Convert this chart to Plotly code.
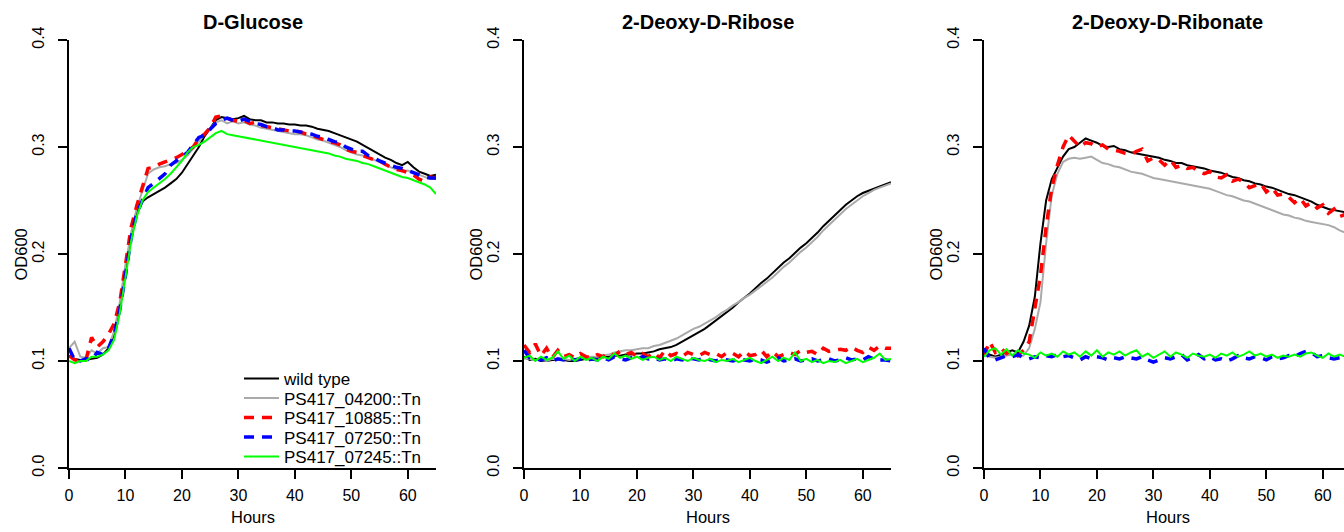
import plotly.graph_objects as go

# ---------------- data ----------------
hours = list(range(66))
strains = ["wild type", "PS417_04200::Tn", "PS417_10885::Tn", "PS417_07250::Tn", "PS417_07245::Tn"]
panel_titles = ["D-Glucose", "2-Deoxy-D-Ribose", "2-Deoxy-D-Ribonate"]
x_tick_vals = [0, 10, 20, 30, 40, 50, 60]
y_tick_vals = [0.0, 0.1, 0.2, 0.3, 0.4]
y_tick_text = ["0.0", "0.1", "0.2", "0.3", "0.4"]

# D-Glucose
glc_wt = [0.105,0.102,0.101,0.101,0.102,0.103,0.106,0.112,0.125,0.150,0.183,0.215,0.240,0.249,0.253,0.256,0.259,0.262,0.266,0.270,
          0.276,0.284,0.292,0.300,0.310,0.318,0.325,0.328,0.327,0.326,0.327,0.329,0.326,0.325,0.325,0.323,0.323,0.322,0.322,0.321,
          0.321,0.320,0.320,0.319,0.317,0.316,0.315,0.313,0.311,0.309,0.307,0.305,0.302,0.299,0.296,0.293,0.290,0.288,0.285,0.283,
          0.286,0.281,0.277,0.275,0.273,0.274]
glc_04200 = [0.112,0.118,0.104,0.103,0.110,0.107,0.112,0.113,0.128,0.155,0.190,0.220,0.243,0.260,0.275,0.279,0.281,0.282,0.284,0.285,
             0.288,0.292,0.298,0.305,0.312,0.318,0.323,0.325,0.322,0.324,0.322,0.323,0.321,0.320,0.318,0.317,0.316,0.315,0.314,0.313,
             0.312,0.312,0.311,0.309,0.307,0.306,0.304,0.302,0.300,0.297,0.295,0.293,0.292,0.290,0.288,0.286,0.283,0.281,0.279,0.277,
             0.278,0.276,0.274,0.272,0.270,0.270]
glc_10885 = [0.105,0.101,0.100,0.101,0.122,0.113,0.118,0.125,0.135,0.155,0.190,0.225,0.245,0.262,0.280,0.281,0.284,0.286,0.288,0.290,
             0.293,0.296,0.300,0.308,0.312,0.318,0.328,0.329,0.327,0.325,0.324,0.325,0.322,0.323,0.320,0.319,0.318,0.317,0.316,0.315,
             0.315,0.314,0.312,0.311,0.309,0.307,0.305,0.304,0.302,0.298,0.296,0.295,0.292,0.290,0.288,0.287,0.284,0.281,0.279,0.278,
             0.276,0.274,0.270,0.268,0.272,0.271]
glc_07250 = [0.112,0.101,0.100,0.102,0.101,0.108,0.106,0.112,0.125,0.148,0.180,0.215,0.238,0.250,0.262,0.266,0.270,0.275,0.283,0.287,
             0.290,0.295,0.302,0.309,0.311,0.316,0.322,0.325,0.327,0.325,0.324,0.326,0.324,0.322,0.321,0.319,0.318,0.316,0.316,0.315,
             0.315,0.314,0.313,0.312,0.310,0.309,0.307,0.305,0.304,0.300,0.298,0.296,0.296,0.292,0.290,0.287,0.285,0.283,0.281,0.280,
             0.278,0.276,0.274,0.272,0.271,0.271]
glc_07245 = [0.100,0.098,0.100,0.100,0.104,0.104,0.106,0.110,0.120,0.145,0.178,0.212,0.235,0.250,0.258,0.262,0.266,0.270,0.275,0.281,
             0.287,0.295,0.300,0.302,0.305,0.309,0.313,0.315,0.312,0.311,0.310,0.309,0.308,0.307,0.306,0.305,0.304,0.303,0.302,0.301,
             0.300,0.299,0.298,0.297,0.296,0.295,0.294,0.292,0.291,0.289,0.288,0.287,0.285,0.284,0.282,0.280,0.278,0.276,0.274,0.272,
             0.271,0.269,0.267,0.265,0.262,0.256]

# 2-Deoxy-D-Ribose
dr_wt = [0.104,0.101,0.102,0.100,0.100,0.101,0.101,0.101,0.100,0.100,0.101,0.102,0.101,0.103,0.104,0.104,0.105,0.105,0.106,0.106,
         0.107,0.107,0.108,0.109,0.111,0.112,0.113,0.115,0.118,0.121,0.124,0.127,0.130,0.134,0.138,0.142,0.146,0.150,0.155,0.159,
         0.163,0.168,0.173,0.177,0.182,0.187,0.192,0.196,0.201,0.206,0.210,0.215,0.220,0.226,0.231,0.236,0.241,0.246,0.250,0.254,
         0.257,0.259,0.261,0.263,0.265,0.267]
dr_04200 = [0.102,0.102,0.101,0.101,0.100,0.102,0.101,0.102,0.101,0.102,0.103,0.103,0.104,0.104,0.105,0.106,0.108,0.109,0.110,0.110,
            0.111,0.112,0.112,0.114,0.115,0.117,0.119,0.121,0.124,0.127,0.130,0.132,0.135,0.138,0.141,0.145,0.148,0.152,0.155,0.159,
            0.162,0.166,0.170,0.174,0.178,0.183,0.188,0.192,0.197,0.202,0.206,0.211,0.216,0.222,0.227,0.232,0.237,0.242,0.246,0.250,
            0.254,0.257,0.260,0.262,0.264,0.266]
dr_10885 = [0.115,0.108,0.116,0.105,0.112,0.103,0.110,0.104,0.106,0.103,0.107,0.104,0.103,0.106,0.104,0.108,0.105,0.109,0.106,0.108,
            0.104,0.107,0.104,0.108,0.103,0.110,0.105,0.107,0.104,0.108,0.106,0.105,0.108,0.106,0.107,0.104,0.108,0.107,0.104,0.109,
            0.105,0.106,0.110,0.104,0.109,0.104,0.106,0.108,0.106,0.110,0.108,0.109,0.106,0.112,0.109,0.110,0.111,0.110,0.113,0.110,
            0.108,0.113,0.110,0.114,0.112,0.112]
dr_07250 = [0.110,0.103,0.102,0.101,0.103,0.100,0.102,0.101,0.103,0.101,0.102,0.100,0.102,0.101,0.103,0.101,0.104,0.102,0.101,0.103,
            0.102,0.104,0.102,0.103,0.101,0.102,0.100,0.102,0.101,0.103,0.102,0.101,0.103,0.101,0.100,0.102,0.101,0.100,0.102,0.101,
            0.100,0.102,0.101,0.099,0.101,0.103,0.100,0.101,0.102,0.100,0.101,0.102,0.100,0.101,0.102,0.100,0.101,0.103,0.101,0.102,
            0.101,0.104,0.102,0.101,0.101,0.100]
dr_07245 = [0.103,0.105,0.100,0.104,0.101,0.103,0.109,0.102,0.105,0.100,0.104,0.101,0.103,0.100,0.104,0.102,0.107,0.103,0.105,0.102,
            0.104,0.101,0.103,0.104,0.101,0.103,0.100,0.104,0.102,0.100,0.103,0.101,0.100,0.102,0.099,0.101,0.100,0.102,0.099,0.101,
            0.103,0.100,0.098,0.101,0.104,0.100,0.103,0.101,0.108,0.100,0.102,0.099,0.101,0.098,0.100,0.099,0.101,0.098,0.100,0.102,
            0.099,0.101,0.103,0.107,0.101,0.102]

# 2-Deoxy-D-Ribonate
drn_wt = [0.108,0.106,0.104,0.106,0.108,0.110,0.108,0.118,0.133,0.160,0.210,0.250,0.270,0.281,0.291,0.298,0.300,0.304,0.308,0.306,
          0.304,0.301,0.300,0.301,0.298,0.297,0.295,0.294,0.293,0.292,0.291,0.290,0.288,0.287,0.285,0.285,0.283,0.282,0.281,0.280,
          0.278,0.277,0.276,0.274,0.272,0.271,0.269,0.268,0.266,0.265,0.263,0.262,0.260,0.258,0.256,0.255,0.253,0.251,0.249,0.246,
          0.244,0.242,0.241,0.240,0.239,0.238]
drn_04200 = [0.106,0.104,0.103,0.104,0.105,0.106,0.104,0.105,0.112,0.130,0.155,0.210,0.255,0.275,0.286,0.289,0.290,0.289,0.290,0.291,
             0.288,0.285,0.284,0.282,0.281,0.279,0.277,0.276,0.275,0.273,0.271,0.270,0.269,0.268,0.267,0.266,0.265,0.264,0.263,0.262,
             0.261,0.259,0.257,0.255,0.254,0.252,0.250,0.249,0.247,0.245,0.243,0.241,0.239,0.237,0.236,0.234,0.233,0.231,0.230,0.229,
             0.228,0.227,0.225,0.222,0.220,0.219]
drn_10885 = [0.105,0.118,0.108,0.112,0.107,0.110,0.105,0.110,0.118,0.150,0.180,0.225,0.262,0.283,0.300,0.311,0.305,0.300,0.304,0.303,
             0.300,0.302,0.298,0.297,0.296,0.294,0.293,0.296,0.298,0.287,0.290,0.288,0.283,0.288,0.281,0.283,0.280,0.281,0.277,0.275,
             0.277,0.272,0.271,0.274,0.268,0.270,0.267,0.262,0.264,0.266,0.258,0.262,0.255,0.256,0.253,0.248,0.252,0.245,0.248,0.243,
             0.246,0.238,0.242,0.235,0.237,0.234]
drn_07250 = [0.112,0.102,0.101,0.103,0.105,0.104,0.106,0.103,0.102,0.104,0.103,0.105,0.104,0.106,0.104,0.105,0.103,0.101,0.104,0.102,
             0.104,0.103,0.101,0.103,0.102,0.104,0.103,0.102,0.104,0.101,0.099,0.101,0.103,0.102,0.104,0.106,0.101,0.103,0.106,0.102,
             0.104,0.101,0.102,0.100,0.102,0.105,0.103,0.102,0.104,0.103,0.101,0.104,0.102,0.103,0.105,0.104,0.107,0.109,0.108,0.104,
             0.105,0.103,0.102,0.103,0.104,0.103]
drn_07245 = [0.104,0.110,0.112,0.106,0.111,0.105,0.110,0.107,0.106,0.103,0.108,0.105,0.107,0.104,0.109,0.106,0.108,0.104,0.109,0.105,
             0.110,0.104,0.108,0.106,0.109,0.105,0.108,0.110,0.104,0.107,0.103,0.106,0.109,0.104,0.108,0.106,0.103,0.107,0.105,0.104,
             0.106,0.103,0.107,0.105,0.108,0.104,0.106,0.109,0.105,0.107,0.104,0.106,0.103,0.105,0.104,0.106,0.104,0.107,0.108,0.105,
             0.103,0.107,0.104,0.106,0.104,0.105]

panel_series = [
    [glc_wt, glc_04200, glc_10885, glc_07250, glc_07245],
    [dr_wt, dr_04200, dr_10885, dr_07250, dr_07245],
    [drn_wt, drn_04200, drn_10885, drn_07250, drn_07245],
]

# ---------------- styling ----------------
colors = ["#000000", "#aaaaaa", "#ff0000", "#0000ff", "#00ff00"]
dashes = ["solid", "solid", "10px,8px", "10px,8px", "solid"]
widths = [2, 2, 3.5, 3.5, 2]
FONT = "Liberation Sans, Arial, Helvetica, sans-serif"

W, H = 1344, 532
def fx(p):
    return p / W
def fy(p):
    return (H - p) / H

# pixel extents of each plot region (left edge); y from 40 (0.4) to 468 (0.0)
px_left = [69, 524, 984]
px_per_hour = 367 / 65
y_top, y_bot = 40, 468

fig = go.Figure()

for i, series in enumerate(panel_series):
    ax = "" if i == 0 else str(i + 1)
    for j, ys in enumerate(series):
        fig.add_trace(go.Scatter(
            x=hours[:len(ys)], y=ys, mode="lines",
            name=strains[j],
            line=dict(color=colors[j], width=widths[j], dash=dashes[j]),
            xaxis="x" + ax, yaxis="y" + ax,
            showlegend=(i == 0),
            legend="legend" if j == 0 else "legend" + str(j + 1),
        ))

layout = dict(
    template="none",
    width=W, height=H, autosize=False,
    margin=dict(l=0, r=0, t=0, b=0, autoexpand=False),
    paper_bgcolor="white", plot_bgcolor="white",
    font=dict(family=FONT, size=16, color="black"),
)

annotations = []
for i in range(3):
    ax = "" if i == 0 else str(i + 1)
    left = px_left[i]
    right = min(left + 367, W)
    xr = [0, (right - left) / px_per_hour]
    layout["xaxis" + ax] = dict(
        domain=[fx(left), fx(right)], range=xr, anchor="y" + ax,
        showline=True, linecolor="black", linewidth=2,
        ticks="outside", ticklen=9, tickwidth=2, tickcolor="black",
        tickvals=x_tick_vals, showgrid=False, zeroline=False, automargin=False,
        tickfont=dict(size=16, family=FONT), ticklabelstandoff=3,
        fixedrange=True,
    )
    layout["yaxis" + ax] = dict(
        domain=[fy(y_bot), fy(y_top)], range=[0, 0.4], anchor="x" + ax,
        showline=True, linecolor="black", linewidth=2,
        ticks="outside", ticklen=9, tickwidth=2, tickcolor="black",
        tickvals=y_tick_vals, ticktext=y_tick_text, tickangle=-90,
        showgrid=False, zeroline=False, automargin=False,
        tickfont=dict(size=16, family=FONT), ticklabelstandoff=8,
        fixedrange=True,
    )
    full_center = left + 367 / 2
    annotations.append(dict(text="<b>" + panel_titles[i] + "</b>", xref="paper", yref="paper",
                            x=fx(full_center), y=fy(22), xanchor="center", yanchor="middle",
                            showarrow=False, font=dict(size=20, family=FONT)))
    annotations.append(dict(text="OD600", xref="paper", yref="paper", textangle=-90,
                            x=fx(left - 48.5), y=fy(255), xanchor="center", yanchor="middle",
                            showarrow=False, font=dict(size=16.5, family=FONT)))
    annotations.append(dict(text="Hours", xref="paper", yref="paper",
                            x=fx(full_center), y=fy(517), xanchor="center", yanchor="middle",
                            showarrow=False, font=dict(size=16.5, family=FONT)))

layout["annotations"] = annotations

# one legend per entry so that the row spacing matches the reference
for j in range(5):
    key = "legend" if j == 0 else "legend" + str(j + 1)
    layout[key] = dict(
        x=fx(239), y=fy(379 + 19.5 * j), xanchor="left", yanchor="middle",
        bgcolor="rgba(0,0,0,0)", borderwidth=0, itemwidth=35,
        font=dict(size=17, family=FONT, color="black"),
    )

fig.update_layout(**layout)
fig.write_html(
    "out.html",
    config={"displayModeBar": False, "staticPlot": True},
    post_script="document.body.style.margin='0';document.body.style.overflow='hidden';",
)
